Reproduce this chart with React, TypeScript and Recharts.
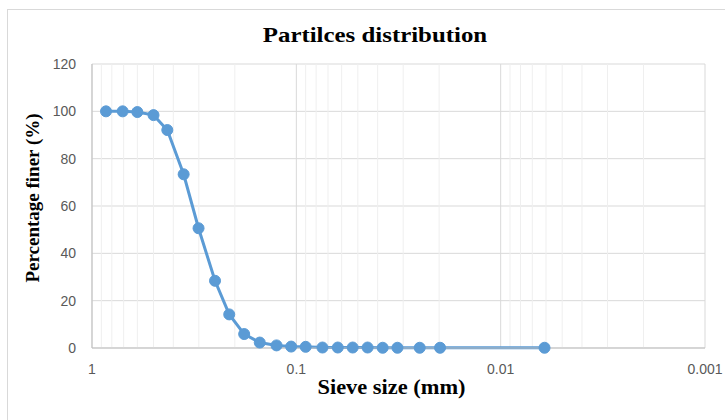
import { LineChart, Line, XAxis, YAxis, CartesianGrid, ReferenceLine } from 'recharts'

// sieve opening (mm) vs. % passing
const sieveSizes = [
  0.854, 0.708, 0.6, 0.5, 0.428, 0.356, 0.301, 0.25, 0.213, 0.18, 0.151, 0.125,
  0.106, 0.09, 0.0745, 0.0627, 0.053, 0.0448, 0.0378, 0.032, 0.0249, 0.0198, 0.0061,
]
const percentFiner = [
  100, 100, 99.7, 98.4, 92.1, 73.4, 50.6, 28.4, 14.2, 5.9, 2.3, 1.1,
  0.6, 0.5, 0.2, 0.2, 0.2, 0.2, 0.1, 0.1, 0.1, 0.1, 0.1,
]

const xTicks = [1, 0.1, 0.01, 0.001]
const yTicks = [0, 20, 40, 60, 80, 100, 120]
const minorGrid = [
  0.9, 0.8, 0.7, 0.6, 0.5, 0.4, 0.3, 0.2,
  0.09, 0.08, 0.07, 0.06, 0.05, 0.04, 0.03, 0.02,
  0.009, 0.008, 0.007, 0.006, 0.005, 0.004, 0.003, 0.002,
]

const BLUE = '#5b9bd5'
const data = sieveSizes.map((size, i) => ({ size, finer: percentFiner[i] }))

const tickStyle = { fill: '#595959', fontSize: 14, fontFamily: 'Liberation Sans, Arial, sans-serif' }
const titleFont = 'Liberation Serif, Times New Roman, serif'

export default function App() {
  return (
    <div style={{ position: 'absolute', left: 0, top: 0, width: 725, height: 420, background: '#fff', overflow: 'hidden' }}>
      <div
        style={{
          position: 'absolute', left: 7, top: 9, width: 740, height: 430,
          border: '1px solid #d9d9d9', boxSizing: 'border-box',
        }}
      />
      <LineChart
        width={725}
        height={420}
        data={data}
        margin={{ top: 64, right: 20, bottom: 42, left: 0 }}
      >
        <CartesianGrid vertical={false} stroke="#d9d9d9" />
        {minorGrid.map((v) => (
          <ReferenceLine key={v} x={v} stroke="#efefef" strokeWidth={1} />
        ))}
        {xTicks.map((v) => (
          <ReferenceLine key={'M' + v} x={v} stroke="#d9d9d9" strokeWidth={1} />
        ))}
        <XAxis
          dataKey="size"
          type="number"
          scale="log"
          domain={[0.001, 1]}
          reversed
          ticks={xTicks}
          tickFormatter={(v) => String(v)}
          tick={tickStyle}
          tickLine={false}
          tickSize={0}
          tickMargin={16}
          stroke="#bfbfbf"
          allowDataOverflow
        />
        <YAxis
          type="number"
          domain={[0, 120]}
          ticks={yTicks}
          width={92}
          tick={tickStyle}
          tickLine={false}
          tickSize={0}
          tickMargin={16}
          stroke="#bfbfbf"
        />
        <Line
          dataKey="finer"
          stroke={BLUE}
          strokeWidth={3}
          dot={{ r: 5.5, fill: BLUE, stroke: BLUE, strokeWidth: 1 }}
          isAnimationActive={false}
        />
      </LineChart>
      <div
        style={{
          position: 'absolute', left: 0, width: 750, top: 22, textAlign: 'center',
          fontFamily: titleFont, fontWeight: 'bold', fontSize: 22, color: '#000',
          transform: 'scaleX(1.13)',
        }}
      >
        Partilces distribution
      </div>
      <div
        style={{
          position: 'absolute', left: 92, width: 599, top: 376, textAlign: 'center',
          fontFamily: titleFont, fontWeight: 'bold', fontSize: 20, color: '#000',
          transform: 'scaleX(1.12)',
        }}
      >
        Sieve size (mm)
      </div>
      <div
        style={{
          position: 'absolute', left: 33, top: 198, width: 0, height: 0,
        }}
      >
        <div
          style={{
            position: 'absolute', left: -150, top: -11, width: 300, textAlign: 'center',
            transform: 'rotate(-90deg)', whiteSpace: 'nowrap', lineHeight: '22px',
            fontFamily: titleFont, fontWeight: 'bold', fontSize: 19, color: '#000',
          }}
        >
          Percentage finer (%)
        </div>
      </div>
    </div>
  )
}
